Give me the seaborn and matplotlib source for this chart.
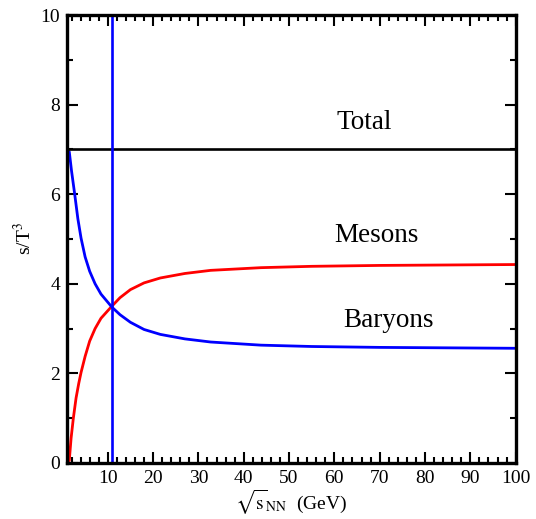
import numpy as np
import pandas as pd
import seaborn as sns
import matplotlib
matplotlib.use("Agg")
import matplotlib.pyplot as plt
from matplotlib.ticker import MultipleLocator

# values
baryon_energy = [1.5, 2.0, 2.7, 3.4, 4.1, 5.0, 6.0, 7.2, 8.5, 10.9, 12.7, 15, 18, 21.6, 27, 32.7, 43.8, 55, 70, 85, 100]
baryon_st3 = [6.95, 6.52, 6.0, 5.45, 5.02, 4.6, 4.28, 4.0, 3.77, 3.48, 3.31, 3.14, 2.98, 2.87, 2.77, 2.7, 2.63, 2.6, 2.58, 2.57, 2.56]

meson_energy = [1.5, 1.9, 2.4, 3.0, 3.6, 4.1, 5.0, 6.0, 7.2, 8.5, 10.9, 12.7, 15, 18, 21.6, 27, 32.7, 43.8, 55, 70, 85, 100]
meson_st3 = [0.05, 0.55, 1.0, 1.45, 1.78, 2.02, 2.38, 2.72, 3.0, 3.23, 3.5, 3.69, 3.87, 4.02, 4.13, 4.23, 4.3, 4.36, 4.39, 4.41, 4.42, 4.43]

total_st3 = 7.0
crossing_energy = 10.9

baryons = pd.DataFrame({"energy": baryon_energy, "st3": baryon_st3})
mesons = pd.DataFrame({"energy": meson_energy, "st3": meson_st3})

sns.set_theme(style="ticks")
plt.rcParams["font.family"] = ["Liberation Serif", "DejaVu Serif"]
plt.rcParams["mathtext.fontset"] = "stix"
plt.rcParams["text.color"] = "black"
plt.rcParams["axes.labelcolor"] = "black"

fig = plt.figure(figsize=(5.36, 5.19), dpi=100)
ax = fig.add_axes([0.125, 0.108, 0.837, 0.863])

sns.lineplot(data=mesons, x="energy", y="st3", color="#ff0000", lw=2.0, ax=ax)
sns.lineplot(data=baryons, x="energy", y="st3", color="#0000ff", lw=2.0, ax=ax)
ax.axhline(total_st3, color="black", lw=1.9)
ax.axvline(crossing_energy, color="#0000ff", lw=1.9)

ax.text(66.5, 7.6, "Total", fontsize=19.5, ha="center", va="center")
ax.text(69.2, 5.07, "Mesons", fontsize=19.5, ha="center", va="center")
ax.text(72.0, 3.19, "Baryons", fontsize=19.5, ha="center", va="center")

ax.set_xlim(1, 100)
ax.set_ylim(0, 10)
ax.xaxis.set_major_locator(MultipleLocator(10))
ax.xaxis.set_minor_locator(MultipleLocator(2))
ax.yaxis.set_major_locator(MultipleLocator(2))
ax.yaxis.set_minor_locator(MultipleLocator(1))
ax.tick_params(which="both", direction="in", top=True, right=True, width=1.5, colors="black", labelsize=14)
ax.tick_params(which="major", length=8, pad=5)
ax.tick_params(which="minor", length=4.5)
for sp in ax.spines.values():
    sp.set_linewidth(2.4)
    sp.set_color("black")

ax.set_xlabel(r"$\sqrt{\mathrm{s}}_{\mathrm{NN}}$  (GeV)", fontsize=14, labelpad=1)
ax.set_ylabel(r"s/T$^3$", fontsize=14, labelpad=4)

fig.savefig("out.png", dpi=100)
